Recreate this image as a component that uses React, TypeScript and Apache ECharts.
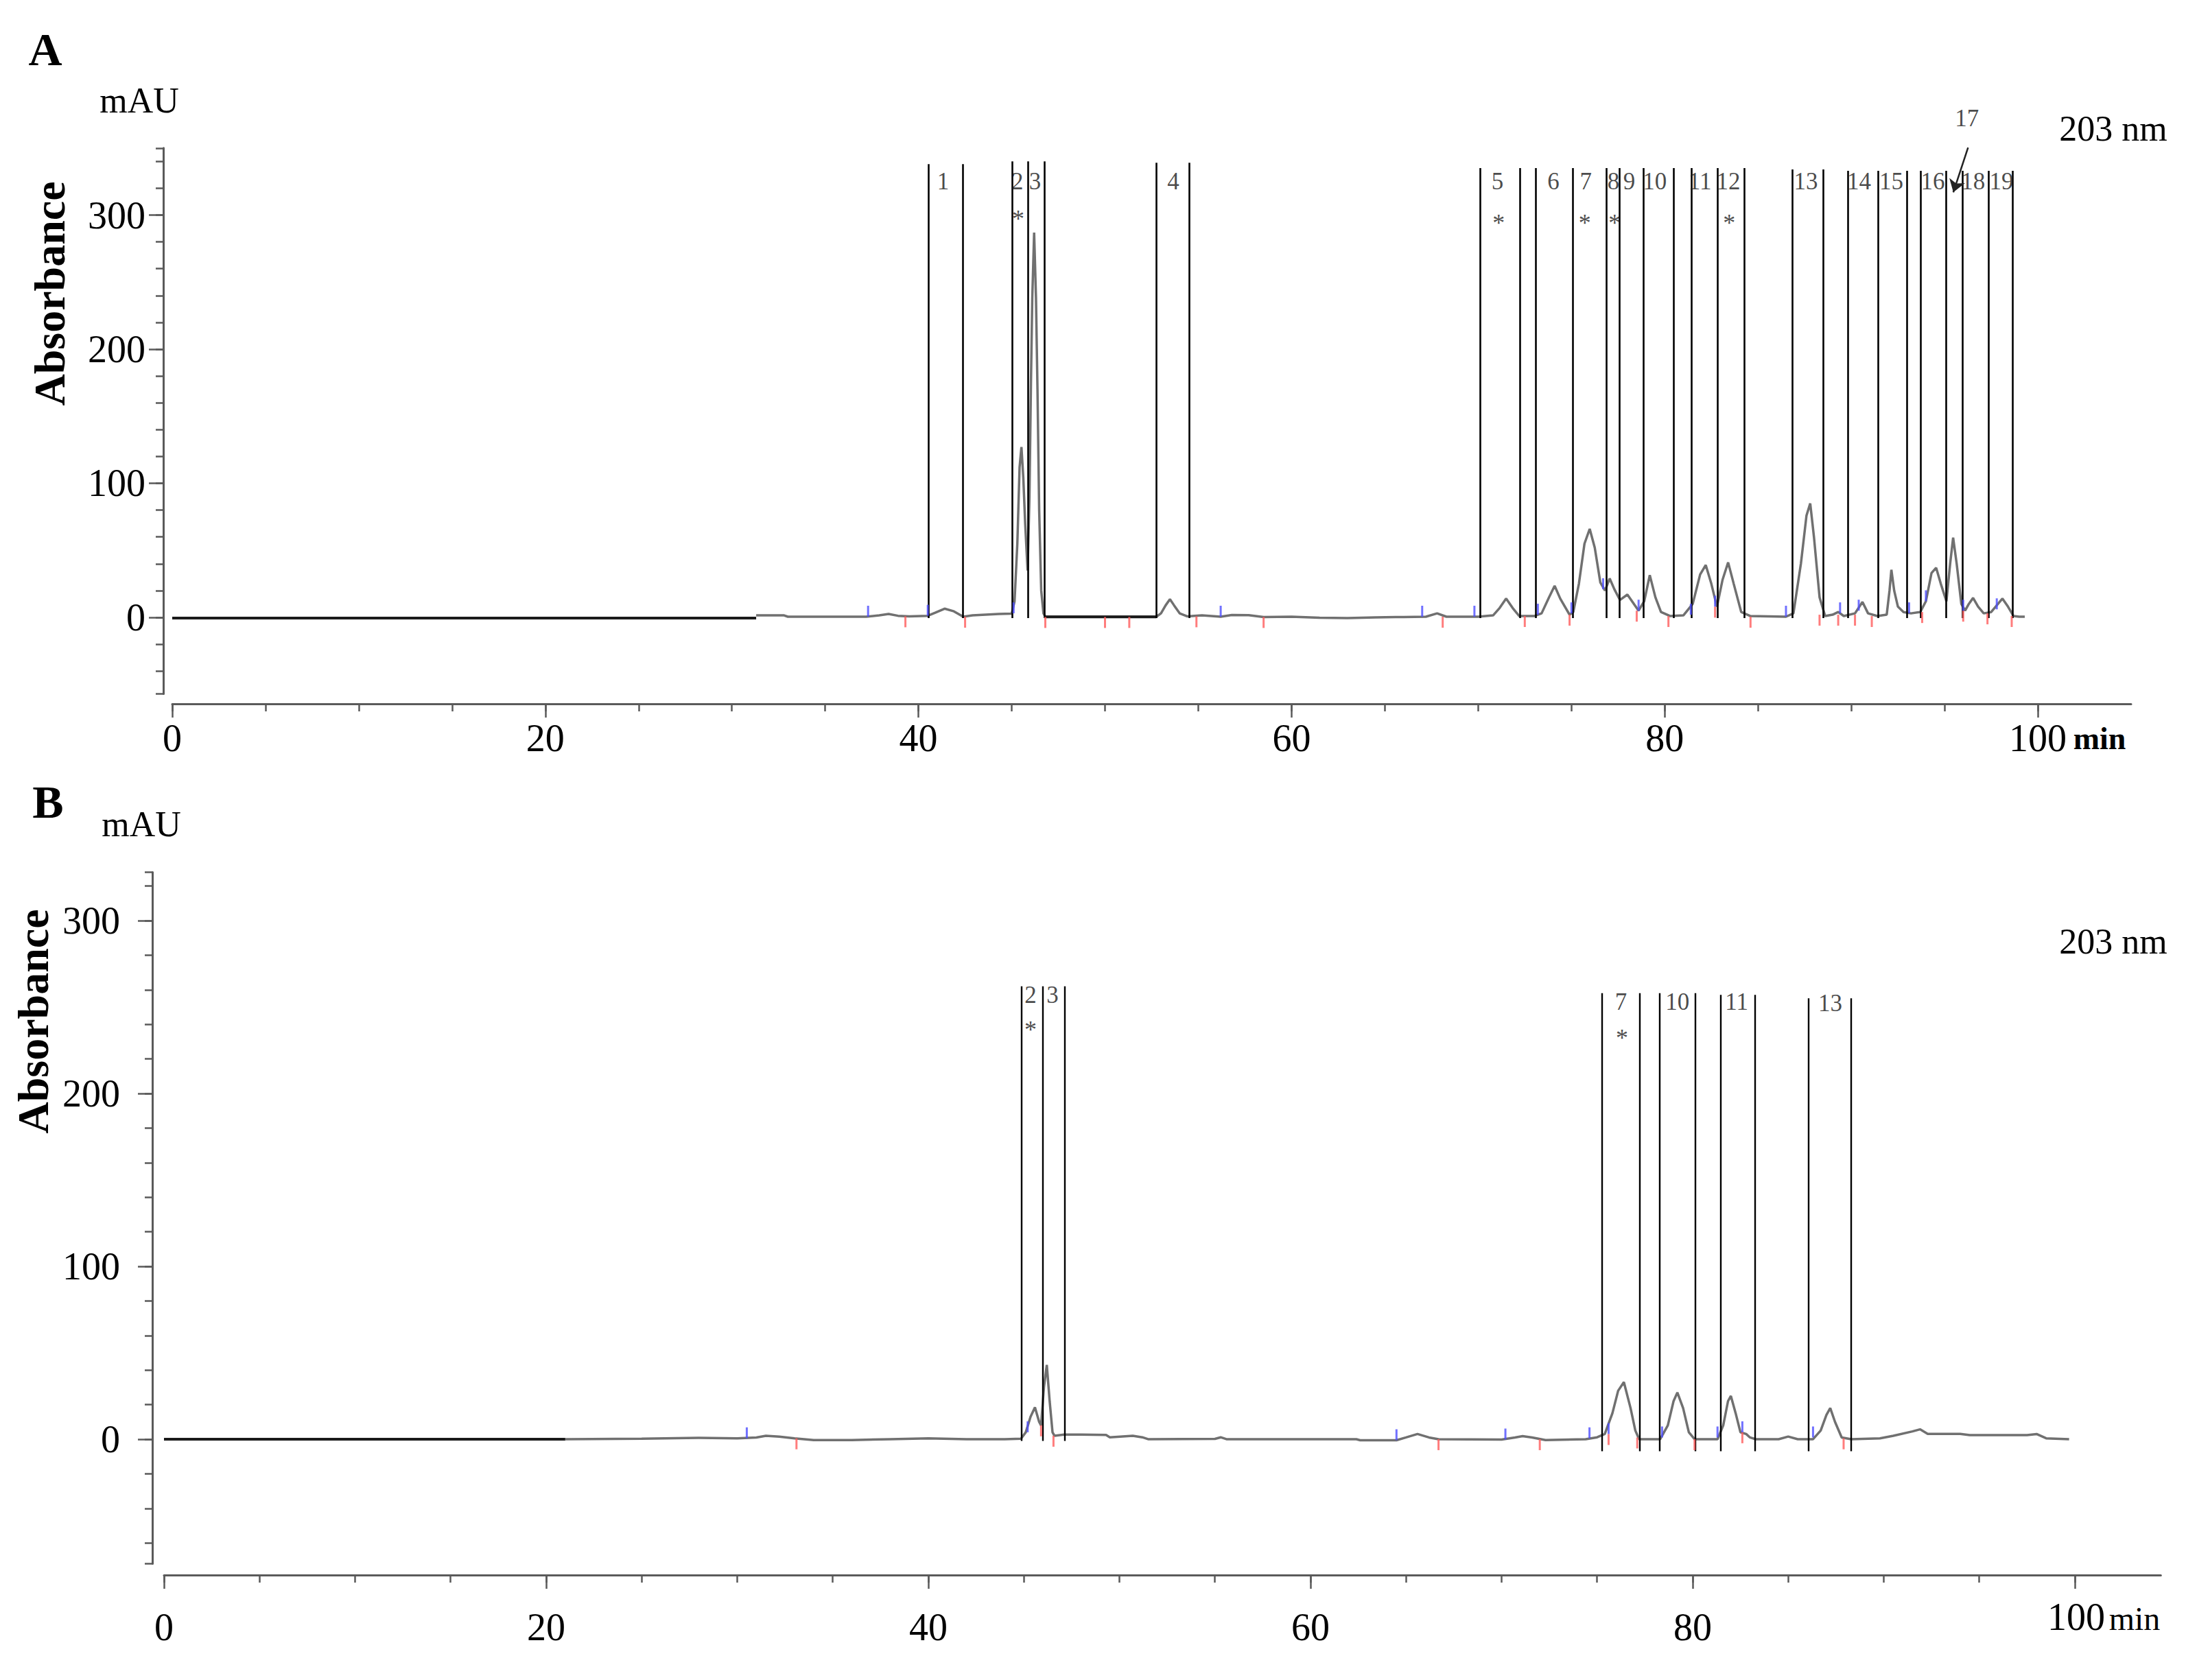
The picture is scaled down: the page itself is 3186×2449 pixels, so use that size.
import React, { useEffect, useRef } from "react";
import * as echarts from "echarts";

const FONT = '"Liberation Serif", "Times New Roman", Times, serif';

// ---------------- Panel A ----------------
const xLabelValuesA = [0, 20, 40, 60, 80, 100];
const xLabelValuesB = [0, 20, 40, 60, 80];
const xMinorTicks = [0, 5, 10, 15, 20, 25, 30, 35, 40, 45, 50, 55, 60, 65, 70, 75, 80, 85, 90, 95, 100];
const yLabelValues = [0, 100, 200, 300];
const yMinorTicksA = [-57, -40, -20, 0, 20, 40, 60, 80, 100, 120, 140, 160, 180, 200, 220, 240, 260, 280, 300, 320, 340, 350];
const yMinorTicksB = [-72, -60, -40, -20, 0, 20, 40, 60, 80, 100, 120, 140, 160, 180, 200, 220, 240, 260, 280, 300, 320, 328];

const baselineA1: [number, number][] = [[0, -0.5], [31.3, -0.5]];
const baselineA2: [number, number][] = [[46.8, 0.4], [52.75, 0.4]];

const traceA: [number, number][] = [
  [31.3, 1.5], [32.8, 1.5], [33.0, 0.5], [35.0, 0.5], [37.2, 0.5], [37.9, 1.5], [38.4, 2.5], [38.9, 1.2],
  [39.5, 0.8], [40.5, 1.2], [40.9, 3.5], [41.4, 6.5], [41.9, 4.5], [42.4, 0.5], [42.9, 1.5], [43.6, 2.0],
  [44.3, 2.5], [45.0, 2.8], [45.15, 12], [45.3, 55], [45.42, 112], [45.52, 127], [45.62, 104], [45.72, 70],
  [45.85, 35], [45.95, 90], [46.03, 175], [46.1, 238], [46.2, 287], [46.3, 238], [46.38, 170], [46.47, 80],
  [46.58, 20], [46.7, 3], [46.8, 0.5], [52.75, 0.5], [53.0, 3], [53.25, 9], [53.48, 13.5], [53.7, 9],
  [54.0, 3], [54.4, 0.8], [55.2, 1.5], [56.2, 0.5], [56.8, 1.8], [57.7, 1.6], [58.5, 0.3], [60.0, 0.5],
  [61.5, -0.3], [63.0, -0.5], [64.5, 0], [66.0, 0.3], [67.2, 0.5], [67.8, 3], [68.3, 0.5], [70.0, 0.5],
  [70.8, 1.5], [71.15, 7], [71.5, 14], [71.85, 7], [72.2, 1], [73.0, 1], [73.4, 3], [73.8, 15],
  [74.1, 23.5], [74.4, 14], [74.9, 2], [75.1, 4], [75.4, 25], [75.7, 55], [75.98, 66], [76.25, 52],
  [76.55, 26], [76.8, 20], [77.05, 29], [77.3, 21], [77.6, 13], [78.0, 17], [78.3, 11], [78.6, 5],
  [78.9, 12], [79.2, 31.5], [79.5, 15], [79.8, 4], [80.3, 1], [81.0, 1.5], [81.5, 10], [81.9, 32],
  [82.2, 39], [82.5, 25], [82.8, 8], [83.1, 28], [83.4, 41], [83.7, 25], [84.1, 4], [84.6, 1],
  [86.5, 0.5], [86.9, 3], [87.3, 40], [87.6, 76], [87.8, 85], [88.0, 60], [88.3, 15], [88.6, 1],
  [89.0, 2], [89.3, 4], [89.6, 1], [90.2, 3], [90.6, 11.5], [90.9, 3], [91.4, 1], [91.9, 2],
  [92.05, 20], [92.15, 35.5], [92.3, 20], [92.5, 8], [92.8, 4], [93.2, 3], [93.7, 4], [94.0, 12],
  [94.3, 33], [94.55, 37], [94.8, 25], [95.1, 12], [95.3, 40], [95.46, 59.5], [95.65, 40], [95.9, 10],
  [96.1, 5], [96.3, 10], [96.53, 14.5], [96.8, 8], [97.1, 3], [97.5, 4], [97.8, 9], [98.1, 14],
  [98.4, 8], [98.7, 1], [99.0, 0.5], [99.3, 0.5],
];

const peakLinesA = [40.52, 42.38, 45.03, 45.87, 46.75, 52.75, 54.51, 70.09, 72.23, 73.1, 75.08, 76.87, 77.58, 78.85,
  80.49, 81.45, 82.83, 84.25, 86.85, 88.51, 89.83, 91.44, 92.97, 93.73, 95.08, 95.97, 97.35, 98.65];
const peakLineTopsA = [338, 338, 340, 340, 340, 339, 339, 335, 335, 335, 335, 335, 335, 335,
  335, 335, 335, 335, 334, 334, 333, 333, 333, 333, 333, 333, 333, 333];

const peakNamesA = ["1", "2", "3", "4", "5", "6", "7", "8", "9", "10", "11", "12", "13", "14", "15", "16", "17", "18", "19"];
const peakLabelXA = [41.32, 45.3, 46.25, 53.66, 71.04, 74.03, 75.77, 77.25, 78.1, 79.47, 81.89, 83.41, 87.57, 90.42, 92.15, 94.37, 96.2, 96.53, 98.05];
const peakLabelYA = [325, 325, 325, 325, 325, 325, 325, 325, 325, 325, 325, 325, 325, 325, 325, 325, 372, 325, 325];

const starXA = [45.35, 71.1, 75.72, 77.32, 83.46];
const starYA = [297, 294, 294, 294, 294];

const arrow17: [number, number][] = [[96.26, 350.3], [95.47, 317]];

const redMarksA: [number, number][] = [
  [39.3, 0.8], [42.5, 0.5], [46.8, 0.3], [50.0, 0.3], [51.3, 0.3], [54.9, 0.8], [58.5, 0.3], [68.1, 0.5],
  [72.5, 1], [74.9, 2], [78.5, 5], [80.2, 1], [82.7, 8], [84.6, 0.5], [88.3, 2], [89.3, 2], [90.2, 2],
  [91.1, 1], [93.8, 4], [96.0, 5], [97.3, 3], [98.6, 1],
];
const blueMarksA: [number, number][] = [
  [37.3, 0.5], [40.5, 1.2], [45.1, 3], [56.2, 0.5], [67.0, 0.5], [69.8, 0.5], [73.2, 2], [75.0, 3],
  [76.7, 21], [78.6, 5], [81.4, 2], [82.7, 8], [86.5, 0.5], [89.4, 3], [90.4, 5], [93.1, 3], [94.0, 12],
  [96.0, 5], [97.8, 6],
];

// ---------------- Panel B ----------------
const baselineB: [number, number][] = [[0, 0], [21.0, 0]];
const traceB: [number, number][] = [
  [21.0, 0], [25.0, 0.3], [28.0, 0.8], [30.0, 0.5], [31.0, 1], [31.5, 2], [32.2, 1.5], [33.0, 0.5],
  [34.0, -0.5], [36.0, -0.5], [38.0, 0], [40.0, 0.5], [42.0, 0], [44.0, 0], [44.85, 0.3], [45.1, 4],
  [45.35, 13], [45.58, 18.4], [45.8, 10], [45.9, 8], [46.05, 30], [46.2, 43], [46.35, 22], [46.5, 4],
  [46.6, 2], [47.1, 2.7], [48.0, 2.7], [49.3, 2.5], [49.5, 1.1], [50.7, 2], [51.2, 1.1], [51.5, 0],
  [55.0, 0.2], [55.3, 1.1], [55.6, 0], [62.4, 0], [62.6, -0.6], [64.5, -0.6], [65.0, 1], [65.6, 3],
  [66.2, 1], [66.7, 0], [70.0, -0.2], [70.7, 1], [71.1, 1.8], [71.6, 1], [72.3, -0.5], [74.4, 0],
  [75.0, 1.1], [75.4, 3], [75.8, 15], [76.1, 28], [76.4, 33], [76.75, 18], [77.0, 5], [77.2, 0],
  [78.3, 0], [78.7, 8], [79.0, 22], [79.2, 27], [79.5, 18], [79.8, 4], [80.1, 0], [81.3, 0],
  [81.6, 8], [81.85, 22], [82.0, 25], [82.25, 15], [82.5, 4], [82.8, 3], [83.0, 1], [83.3, 0],
  [84.5, 0], [85.0, 1.5], [85.5, 0], [86.3, 0], [86.7, 5], [87.0, 14], [87.2, 18], [87.45, 10],
  [87.8, 1], [88.3, 0], [89.8, 0.5], [90.5, 2], [91.5, 4.5], [91.9, 5.7], [92.3, 3.1], [94.0, 3.1],
  [94.5, 2.4], [97.5, 2.4], [98.0, 3], [98.5, 0.5], [99.7, 0],
];

const peakLinesB = [44.88, 45.97, 47.14, 75.24, 77.23, 78.28, 80.15, 81.47, 83.27, 86.07, 88.29];
const peakLineTopsB = [262, 262, 262, 258, 258, 258, 258, 257, 257, 255, 255];
const peakLineBottomsB = [-1, -1, -1, -7, -7, -7, -7, -7, -7, -7, -7];

const peakNamesB = ["2", "3", "7", "10", "11", "13"];
const peakLabelXB = [45.35, 46.5, 76.25, 79.2, 82.3, 87.2];
const peakLabelYB = [257, 257, 253, 253, 253, 252];

const starXB = [45.35, 76.3];
const starYB = [237, 232];

const redMarksB: [number, number][] = [
  [33.1, 0.5], [45.9, 8], [46.55, 2], [66.7, 0], [72.0, 0], [75.6, 3], [77.1, 1], [80.1, 0], [82.6, 4], [87.9, 0.5],
];
const blueMarksB: [number, number][] = [
  [30.5, 0.5], [45.2, 4], [64.5, -0.6], [70.2, -0.2], [74.6, 0.5], [75.6, 3], [78.4, 1], [81.3, 1], [82.6, 4], [86.3, 1],
];

const majorTickValues = [0, 100, 200, 300];
const xMajorTicks = [0, 20, 40, 60, 80, 100];

const AXIS_COLOR = "#5a5a5a";
const TRACE_COLOR = "#707070";

function buildXAxes(gridIndex: number, max: number, offset: number, margin: number, labels: number[]) {
  return [
    {
      type: "value", gridIndex, min: 0, max, offset, position: "bottom",
      axisLine: { show: true, onZero: false, lineStyle: { color: AXIS_COLOR, width: 3 } },
      axisTick: { show: true, customValues: xMinorTicks, length: 11, lineStyle: { color: AXIS_COLOR, width: 2.5 } },
      axisLabel: { show: true, customValues: labels, margin, fontFamily: FONT, fontSize: 56, color: "#000" },
      splitLine: { show: false },
    },
    {
      type: "value", gridIndex, min: 0, max, offset, position: "bottom",
      axisLine: { show: false, onZero: false },
      axisTick: { show: true, customValues: xMajorTicks, length: 20, lineStyle: { color: AXIS_COLOR, width: 2.5 } },
      axisLabel: { show: false },
      splitLine: { show: false },
    },
  ];
}

function buildYAxes(gridIndex: number, min: number, max: number, offset: number, margin: number, minor: number[]) {
  return [
    {
      type: "value", gridIndex, min, max, offset, position: "left",
      axisLine: { show: true, onZero: false, lineStyle: { color: AXIS_COLOR, width: 3 } },
      axisTick: { show: true, customValues: minor, length: 11, lineStyle: { color: AXIS_COLOR, width: 2.5 } },
      axisLabel: { show: true, customValues: yLabelValues, margin, fontFamily: FONT, fontSize: 56, color: "#000" },
      splitLine: { show: false },
    },
    {
      type: "value", gridIndex, min, max, offset, position: "left",
      axisLine: { show: false, onZero: false },
      axisTick: { show: true, customValues: majorTickValues, length: 21, lineStyle: { color: AXIS_COLOR, width: 2.5 } },
      axisLabel: { show: false },
      splitLine: { show: false },
    },
  ];
}

function peakLineData(xs: number[], tops: number[], bottoms: number[]) {
  return xs.map((x, i) => [{ coord: [x, bottoms[i]] }, { coord: [x, tops[i]] }]);
}

function labelSeries(xi: number, yi: number, names: string[], xs: number[], ys: number[], size: number) {
  return {
    type: "scatter", xAxisIndex: xi, yAxisIndex: yi, clip: false, silent: true, z: 6,
    symbolSize: 1, itemStyle: { color: "rgba(0,0,0,0)" },
    label: { show: true, position: "inside", formatter: "{b}", fontFamily: FONT, fontSize: size, color: "#1a1a1a" },
    data: xs.map((x, i) => ({ name: names[i], value: [x, ys[i]] })),
  };
}

function markSeries(xi: number, yi: number, data: [number, number][], color: string, up: boolean) {
  return {
    type: "scatter", xAxisIndex: xi, yAxisIndex: yi, silent: true, z: 5, clip: false,
    symbol: "rect", symbolSize: [3, 16], symbolOffset: [0, up ? -8 : 8],
    itemStyle: { color }, data,
  };
}

function textEl(text: string, x: number, y: number, font: string, rotation = 0) {
  return {
    type: "text", x, y, rotation,
    style: { text, font, fill: "#000", align: "center", verticalAlign: "middle", textAlign: "center", textVerticalAlign: "middle" },
  };
}

export default function App() {
  const ref = useRef<HTMLDivElement>(null);
  useEffect(() => {
    if (!ref.current) return;
    const chart = echarts.init(ref.current, undefined, { renderer: "svg" });
    const stars = (n: number) => Array.from({ length: n }, () => "*");
    const option: any = {
      animation: false,
      backgroundColor: "#fff",
      grid: [
        { left: 251, top: 215.8, width: 2855, height: 795.6, outerBoundsMode: "none", containLabel: false },
        { left: 239, top: 1271.4, width: 2910.3, height: 1008, outerBoundsMode: "none", containLabel: false },
      ],
      xAxis: [...buildXAxes(0, 105, 14.6, 22, xLabelValuesA), ...buildXAxes(1, 104.5, 16.6, 48, xLabelValuesB)],
      yAxis: [
        ...buildYAxes(0, -57, 350, 13, 26, yMinorTicksA),
        ...buildYAxes(1, -72, 328, 17, 47, yMinorTicksB),
      ],
      series: [
        // Panel A
        {
          type: "line", xAxisIndex: 0, yAxisIndex: 0, data: traceA, showSymbol: false, silent: true, z: 3,
          lineStyle: { color: TRACE_COLOR, width: 3.5 },
        },
        {
          type: "line", xAxisIndex: 0, yAxisIndex: 0, data: baselineA2, showSymbol: false, silent: true, z: 4,
          lineStyle: { color: "#1a1a1a", width: 4 },
        },
        {
          type: "line", xAxisIndex: 0, yAxisIndex: 0, data: baselineA1, showSymbol: false, silent: true, z: 4,
          lineStyle: { color: "#1a1a1a", width: 4 },
          markLine: {
            silent: true, symbol: "none", animation: false, label: { show: false },
            lineStyle: { color: "#000", width: 2.6, type: "solid" },
            emphasis: { disabled: true },
            data: peakLineData(peakLinesA, peakLineTopsA, peakLinesA.map(() => -0.5)),
          },
        },
        markSeries(0, 0, redMarksA, "#ff5c5c", false),
        markSeries(0, 0, blueMarksA, "#4d4dff", true),
        labelSeries(0, 0, peakNamesA, peakLabelXA, peakLabelYA, 35),
        labelSeries(0, 0, stars(starXA.length), starXA, starYA, 36),
        {
          type: "lines", coordinateSystem: "cartesian2d", xAxisIndex: 0, yAxisIndex: 0, clip: false, silent: true, z: 7,
          symbol: ["none", "arrow"], symbolSize: [0, 18],
          lineStyle: { color: "#222", width: 2.5, opacity: 1, curveness: 0 },
          data: [{ coords: arrow17 }],
        },
        // Panel B
        {
          type: "line", xAxisIndex: 2, yAxisIndex: 2, data: traceB, showSymbol: false, silent: true, z: 3,
          lineStyle: { color: TRACE_COLOR, width: 3.5 },
        },
        {
          type: "line", xAxisIndex: 2, yAxisIndex: 2, data: baselineB, showSymbol: false, silent: true, z: 4,
          lineStyle: { color: "#1a1a1a", width: 4 },
          markLine: {
            silent: true, symbol: "none", animation: false, label: { show: false },
            lineStyle: { color: "#000", width: 2.4, type: "solid" },
            emphasis: { disabled: true },
            data: peakLineData(peakLinesB, peakLineTopsB, peakLineBottomsB),
          },
        },
        markSeries(2, 2, redMarksB, "#ff5c5c", false),
        markSeries(2, 2, blueMarksB, "#4d4dff", true),
        labelSeries(2, 2, peakNamesB, peakLabelXB, peakLabelYB, 35),
        labelSeries(2, 2, stars(starXB.length), starXB, starYB, 36),
      ],
      graphic: [
        textEl("A", 66, 72, `bold 68px ${FONT}`),
        textEl("mAU", 203, 146, `52px ${FONT}`),
        textEl("Absorbance", 72, 428, `bold 64px ${FONT}`, Math.PI / 2),
        textEl("203 nm", 3080, 187, `52px ${FONT}`),
        textEl("min", 3060, 1076, `bold 46px ${FONT}`),
        textEl("B", 70, 1169, `bold 68px ${FONT}`),
        textEl("mAU", 206, 1201, `52px ${FONT}`),
        textEl("Absorbance", 48, 1489, `bold 64px ${FONT}`, Math.PI / 2),
        textEl("203 nm", 3080, 1372, `52px ${FONT}`),
        textEl("100", 3026, 2357, `56px ${FONT}`),
        textEl("min", 3111, 2359, `48px ${FONT}`),
      ],
    };
    chart.setOption(option);
    return () => chart.dispose();
  }, []);
  return (
    <div
      ref={ref}
      style={{ position: "absolute", left: 0, top: 0, width: 3186, height: 2449, background: "#fff" }}
    />
  );
}
